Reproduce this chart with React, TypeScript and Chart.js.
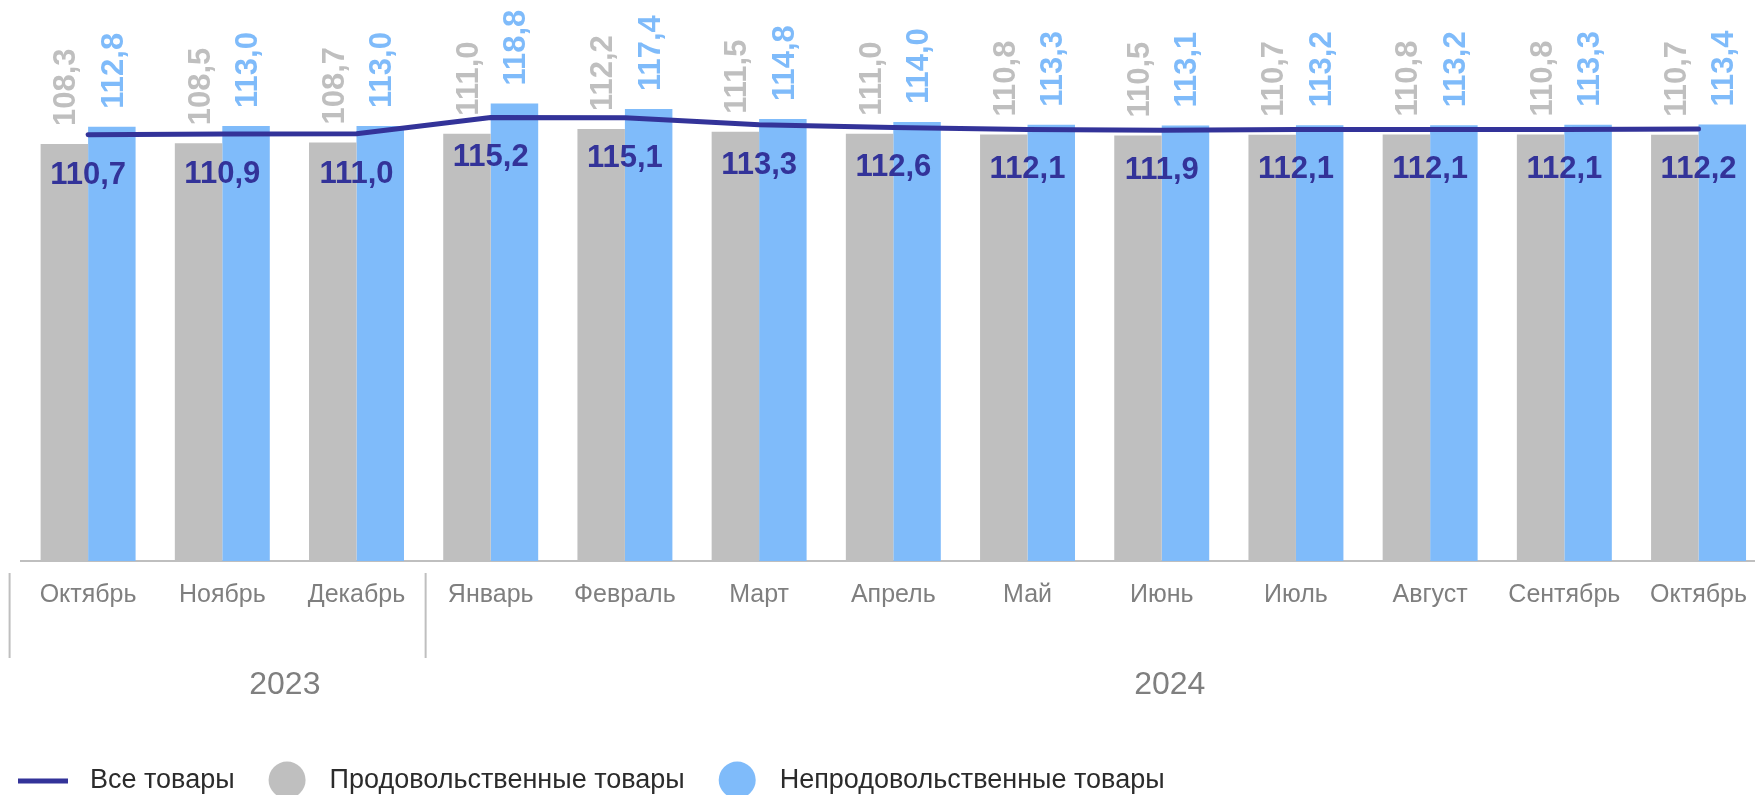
import React, { useEffect, useRef } from "react";
import { Chart, registerables } from "chart.js";

Chart.register(...registerables);

const months = [
  "Октябрь", "Ноябрь", "Декабрь", "Январь", "Февраль", "Март", "Апрель",
  "Май", "Июнь", "Июль", "Август", "Сентябрь", "Октябрь",
];
const allGoods = [110.7, 110.9, 111.0, 115.2, 115.1, 113.3, 112.6, 112.1, 111.9, 112.1, 112.1, 112.1, 112.2];
const foodGoods = [108.3, 108.5, 108.7, 111.0, 112.2, 111.5, 111.0, 110.8, 110.5, 110.7, 110.8, 110.8, 110.7];
const nonFoodGoods = [112.8, 113.0, 113.0, 118.8, 117.4, 114.8, 114.0, 113.3, 113.1, 113.2, 113.2, 113.3, 113.4];
const seriesNames = ["Все товары", "Продовольственные товары", "Непродовольственные товары"];
const years = ["2023", "2024"];
// positions expressed as (fractional) category indexes
const yearCenters = [1.466, 8.06];
const yearSeparators = [-0.585, 2.515];

const LINE_COLOR = "#333399";
const GRAY = "#BFBFBF";
const BLUE = "#7FBBFA";
const AXIS_TEXT = "#7F7F7F";
const LEGEND_TEXT = "#2B2B2B";
const FONT = '"Liberation Sans", Arial, sans-serif';

const fmt = (v: number) => v.toFixed(1).replace(".", ",");

const dataLabelPlugin = {
  id: "dataLabelPlugin",
  afterDatasetsDraw(chart: any) {
    const ctx = chart.ctx;
    chart.data.datasets.forEach((ds: any, i: number) => {
      const meta = chart.getDatasetMeta(i);
      meta.data.forEach((el: any, j: number) => {
        const txt = fmt(ds.data[j]);
        ctx.save();
        ctx.textBaseline = "alphabetic";
        ctx.font = `bold 31px ${FONT}`;
        if (ds.type === "line") {
          ctx.fillStyle = LINE_COLOR;
          ctx.textAlign = "center";
          ctx.fillText(txt, el.x, el.y + 38 + 11);
        } else {
          ctx.fillStyle = ds.backgroundColor;
          ctx.translate(el.x, el.y - 18);
          ctx.rotate(-Math.PI / 2);
          ctx.textAlign = "left";
          ctx.fillText(txt, 0, 11);
        }
        ctx.restore();
      });
    });
  },
};

const decorPlugin = {
  id: "decorPlugin",
  afterDraw(chart: any) {
    const ctx = chart.ctx;
    const xs = chart.scales.x;
    ctx.save();
    // year separators
    ctx.strokeStyle = GRAY;
    ctx.lineWidth = 2;
    yearSeparators.forEach((idx) => {
      const x = xs.getPixelForValue(idx);
      ctx.beginPath();
      ctx.moveTo(x, 573);
      ctx.lineTo(x, 658);
      ctx.stroke();
    });
    // year labels
    ctx.font = `32px ${FONT}`;
    ctx.fillStyle = AXIS_TEXT;
    ctx.textAlign = "center";
    ctx.textBaseline = "middle";
    years.forEach((y, k) => {
      ctx.fillText(y, xs.getPixelForValue(yearCenters[k]), 685);
    });

    // legend
    const cy = 781;
    ctx.font = `27px ${FONT}`;
    ctx.textAlign = "left";
    ctx.textBaseline = "middle";
    let x = 18;
    ctx.strokeStyle = LINE_COLOR;
    ctx.lineWidth = 5;
    ctx.beginPath();
    ctx.moveTo(x, cy);
    ctx.lineTo(x + 50, cy);
    ctx.stroke();
    x += 72;
    ctx.fillStyle = LEGEND_TEXT;
    ctx.fillText(seriesNames[0], x, cy);
    x += ctx.measureText(seriesNames[0]).width + 34;
    [GRAY, BLUE].forEach((c, k) => {
      ctx.fillStyle = c;
      ctx.beginPath();
      ctx.arc(x + 18.5, cy - 1, 18.5, 0, Math.PI * 2);
      ctx.fill();
      x += 37 + 24;
      ctx.fillStyle = LEGEND_TEXT;
      ctx.fillText(seriesNames[k + 1], x, cy);
      x += ctx.measureText(seriesNames[k + 1]).width + 34;
    });
    ctx.restore();
  },
};

export default function App() {
  const ref = useRef<HTMLCanvasElement | null>(null);

  useEffect(() => {
    if (!ref.current) return;
    const chart = new Chart(ref.current, {
      type: "bar",
      data: {
        labels: months,
        datasets: [
          {
            type: "line",
            label: seriesNames[0],
            data: allGoods,
            borderColor: LINE_COLOR,
            backgroundColor: LINE_COLOR,
            borderWidth: 5,
            pointRadius: 0,
            tension: 0,
            borderCapStyle: "round",
            borderJoinStyle: "round",
          } as any,
          {
            type: "bar",
            label: seriesNames[1],
            data: foodGoods,
            backgroundColor: GRAY,
            categoryPercentage: 0.7076,
            barPercentage: 1,
          },
          {
            type: "bar",
            label: seriesNames[2],
            data: nonFoodGoods,
            backgroundColor: BLUE,
            categoryPercentage: 0.7076,
            barPercentage: 1,
          },
        ],
      },
      options: {
        responsive: false,
        animation: false,
        devicePixelRatio: 1,
        layout: { padding: { left: 21, right: 0, top: 22, bottom: 0 } },
        plugins: {
          legend: { display: false },
          tooltip: { enabled: false },
        },
        scales: {
          x: {
            grid: { display: false, drawTicks: false },
            border: { display: true, color: GRAY, width: 2 },
            ticks: {
              color: AXIS_TEXT,
              font: { family: FONT, size: 25 },
              padding: 19,
              maxRotation: 0,
              autoSkip: false,
            },
            afterFit: (scale: any) => {
              scale.height = 234;
            },
          },
          y: {
            display: false,
            min: 0,
            max: 140,
          },
        },
      },
      plugins: [dataLabelPlugin, decorPlugin],
    });
    return () => chart.destroy();
  }, []);

  return (
    <div
      style={{
        position: "absolute",
        left: 0,
        top: 0,
        width: 1755,
        height: 795,
        overflow: "hidden",
        background: "#fff",
      }}
    >
      <canvas ref={ref} width={1766} height={795} style={{ width: 1766, height: 795, display: "block" }} />
    </div>
  );
}
